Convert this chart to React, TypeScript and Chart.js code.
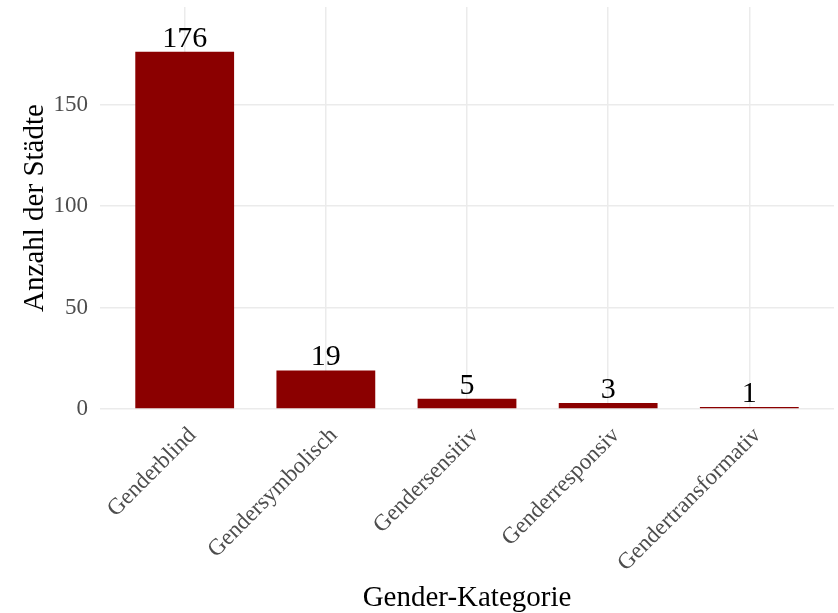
import React, { useEffect, useRef } from "react";
import { Chart, registerables } from "chart.js";

Chart.register(...registerables);

const CATEGORIES = ["Genderblind", "Gendersymbolisch", "Gendersensitiv", "Genderresponsiv", "Gendertransformativ"];
const COUNTS = [176, 19, 5, 3, 1];
const Y_TICKS = [0, 50, 100, 150];
const X_TITLE = "Gender-Kategorie";
const Y_TITLE = "Anzahl der Städte";

const FONT = "'Liberation Serif', 'Times New Roman', serif";

const valueLabels = {
  id: "valueLabels",
  afterDatasetsDraw(chart: any) {
    const { ctx } = chart;
    const meta = chart.getDatasetMeta(0);
    ctx.save();
    ctx.fillStyle = "#000000";
    ctx.font = `30px ${FONT}`;
    ctx.textAlign = "center";
    ctx.textBaseline = "alphabetic";
    meta.data.forEach((bar: any, i: number) => {
      ctx.fillText(String(COUNTS[i]), bar.x, bar.y - 5);
    });
    ctx.restore();
  },
};

const zeroPad = (scale: any) => {
  scale.paddingTop = 0;
  scale.paddingBottom = 0;
  scale.paddingLeft = 0;
  scale.paddingRight = 0;
};

export default function App() {
  const ref = useRef<HTMLCanvasElement>(null);
  useEffect(() => {
    document.body.style.margin = "0";
    const chart = new Chart(ref.current!, {
      type: "bar",
      data: {
        datasets: [
          {
            data: COUNTS.map((v, i) => ({ x: i, y: v })),
            backgroundColor: "#8B0000",
            borderWidth: 0,
            barPercentage: 0.7,
            categoryPercentage: 1,
          },
        ],
      },
      options: {
        animation: false,
        responsive: false,
        devicePixelRatio: 1,
        layout: { autoPadding: false, padding: { top: 7, right: 4, left: 0, bottom: 0 } },
        plugins: { legend: { display: false }, tooltip: { enabled: false } },
        scales: {
          x: {
            type: "linear",
            min: -0.6,
            max: 4.6,
            offset: false,
            afterBuildTicks: (scale: any) => {
              scale.ticks = CATEGORIES.map((_, i) => ({ value: i }));
            },
            afterFit: (scale: any) => {
              scale.height = 204;
              zeroPad(scale);
            },
            ticks: {
              autoSkip: false,
              minRotation: 45,
              maxRotation: 45,
              padding: 13,
              labelOffset: 8,
              color: "#4D4D4D",
              font: { family: FONT, size: 23 },
              callback: (v: any) => CATEGORIES[Math.round(v)] ?? "",
            },
            grid: { color: "#EBEBEB", lineWidth: 1.5, drawTicks: false, offset: false },
            border: { display: false },
            title: {
              display: true,
              text: X_TITLE,
              color: "#000000",
              font: { family: FONT, size: 29 },
              padding: { top: 0, bottom: -3 },
            },
          },
          y: {
            min: 0,
            max: 198,
            afterBuildTicks: (scale: any) => {
              scale.ticks = Y_TICKS.map((v) => ({ value: v }));
            },
            afterFit: (scale: any) => {
              scale.width = 100;
              zeroPad(scale);
            },
            ticks: {
              padding: 12,
              color: "#4D4D4D",
              font: { family: FONT, size: 23 },
            },
            grid: { color: "#EBEBEB", lineWidth: 1.5, drawTicks: false },
            border: { display: false },
            title: {
              display: true,
              text: Y_TITLE,
              color: "#000000",
              font: { family: FONT, size: 29 },
              padding: { top: 18, bottom: 0 },
            },
          },
        },
      },
      plugins: [valueLabels],
    });
    return () => chart.destroy();
  }, []);
  return (
    <div style={{ width: 838, height: 613, background: "#ffffff" }}>
      <canvas ref={ref} width={838} height={613} />
    </div>
  );
}
